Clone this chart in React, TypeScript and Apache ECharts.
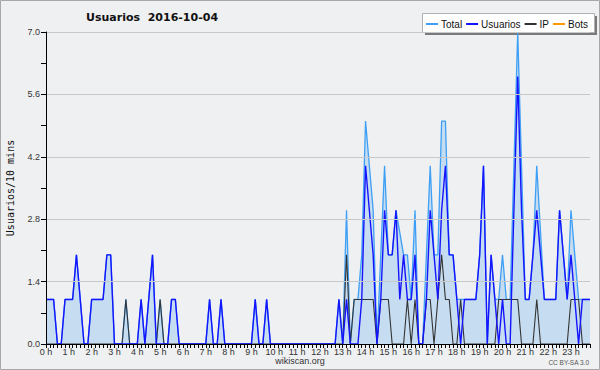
import React, { useEffect, useRef } from "react";
import * as echarts from "echarts";

// 10-minute slots, 00:00 .. 23:50
const TIMES: string[] = [];
for (let h = 0; h < 24; h++) {
  for (let m = 0; m < 60; m += 10) TIMES.push(`${h}:${m < 10 ? "0" + m : m}`);
}

const SERIES_NAMES = ["Total", "Usuarios", "IP", "Bots"];

// one row per hour (6 slots each)
const TOTAL = [
  1, 1, 1, 0, 0, 1,
  1, 1, 2, 1, 0, 0,
  1, 1, 1, 1, 2, 2,
  0, 0, 0, 1, 0, 0,
  0, 1, 0, 1, 2, 0,
  1, 0, 0, 1, 1, 0,
  0, 0, 0, 0, 0, 0,
  0, 1, 0, 0, 1, 0,
  0, 0, 0, 0, 0, 0,
  0, 1, 0, 0, 1, 0,
  0, 0, 0, 0, 0, 0,
  0, 0, 0, 0, 0, 0,
  0, 0, 0, 0, 0, 1,
  0, 3, 0, 1, 1, 2,
  5, 4, 3, 0, 2, 4,
  2, 2, 3, 2.5, 2, 2,
  1, 3, 0, 0, 2, 4,
  2, 2, 5, 5, 2, 2,
  1, 1, 1, 1, 1, 1,
  2, 4, 0, 2, 1, 1,
  2, 1, 1, 4, 7, 4,
  1, 1, 2, 4, 2.5, 1,
  1, 1, 1, 3, 2, 1,
  3, 2, 1, 1, 1, 1,
];

const USUARIOS = [
  1, 1, 1, 0, 0, 1,
  1, 1, 2, 1, 0, 0,
  1, 1, 1, 1, 2, 2,
  0, 0, 0, 0, 0, 0,
  0, 1, 0, 1, 2, 0,
  0, 0, 0, 1, 1, 0,
  0, 0, 0, 0, 0, 0,
  0, 1, 0, 0, 1, 0,
  0, 0, 0, 0, 0, 0,
  0, 1, 0, 0, 1, 0,
  0, 0, 0, 0, 0, 0,
  0, 0, 0, 0, 0, 0,
  0, 0, 0, 0, 0, 1,
  0, 1, 0, 0, 0, 1,
  4, 3, 2, 0, 1, 3,
  2, 2, 3, 1, 2, 1,
  1, 2, 0, 0, 1, 3,
  2, 1, 3, 4, 2, 2,
  1, 0, 1, 1, 1, 1,
  2, 4, 0, 2, 1, 0,
  1, 0, 0, 3, 6, 3,
  1, 1, 2, 3, 2, 1,
  1, 1, 1, 3, 2, 1,
  2, 1, 0, 1, 1, 1,
];

const IP = [
  0, 0, 0, 0, 0, 0,
  0, 0, 0, 0, 0, 0,
  0, 0, 0, 0, 0, 0,
  0, 0, 0, 1, 0, 0,
  0, 0, 0, 0, 0, 0,
  1, 0, 0, 0, 0, 0,
  0, 0, 0, 0, 0, 0,
  0, 0, 0, 0, 0, 0,
  0, 0, 0, 0, 0, 0,
  0, 0, 0, 0, 0, 0,
  0, 0, 0, 0, 0, 0,
  0, 0, 0, 0, 0, 0,
  0, 0, 0, 0, 0, 0,
  0, 2, 0, 1, 1, 1,
  1, 1, 1, 0, 1, 1,
  1, 0, 0, 0, 0, 1,
  0, 1, 0, 0, 1, 1,
  0, 1, 2, 1, 1, 0,
  0, 1, 0, 0, 0, 0,
  0, 0, 0, 0, 0, 1,
  1, 1, 1, 1, 1, 0,
  0, 0, 0, 1, 0, 0,
  0, 0, 0, 0, 0, 0,
  1, 1, 1, 0, 0, 0,
];

// no bot activity visible on this day
const BOTS: number[] = [];

const Y_TICKS_STEP = 1.4;

export default function App() {
  const ref = useRef<HTMLDivElement>(null);

  useEffect(() => {
    document.body.style.margin = "0";
    if (!ref.current) return;
    const chart = echarts.init(ref.current, undefined, { renderer: "svg" });
    const tickFont = "Liberation Sans";
    chart.setOption({
      animation: false,
      backgroundColor: "#eff0f1",
      grid: { left: 46, top: 32, width: 544, height: 312, containLabel: false },
      legend: {
        data: SERIES_NAMES,
        left: 426,
        top: 18,
        padding: 0,
        itemGap: 4,
        itemWidth: 12,
        itemHeight: 2,
        icon: "rect",
        z: 10,
        textStyle: { fontFamily: tickFont, fontSize: 10, color: "#111", lineHeight: 12, padding: [0, 0, 0, -2] },
      },
      xAxis: {
        type: "category",
        data: TIMES,
        boundaryGap: false,
        z: 6,
        axisLine: { show: true, lineStyle: { color: "#000", width: 1 } },
        axisTick: { show: true, interval: 0, length: 4, lineStyle: { color: "#000" } },
        axisLabel: {
          interval: 5,
          margin: 3,
          fontFamily: tickFont,
          fontSize: 9,
          color: "#333",
          formatter: (v: string) => `${parseInt(v, 10)} h`,
        },
        splitLine: { show: false },
      },
      yAxis: {
        type: "value",
        min: 0,
        max: 7,
        interval: Y_TICKS_STEP,
        z: 6,
        axisLine: { show: true, lineStyle: { color: "#000", width: 1 } },
        axisTick: { show: true, length: 5, lineStyle: { color: "#000" } },
        minorTick: { show: true, splitNumber: 2, length: 5, lineStyle: { color: "#000" } },
        axisLabel: {
          margin: 6,
          fontFamily: tickFont,
          fontSize: 9,
          color: "#333",
          formatter: (v: number) => v.toFixed(1),
        },
        splitLine: { show: true, lineStyle: { color: "#c8c8c8", width: 1 } },
      },
      series: [
        {
          name: "Total",
          type: "line",
          data: TOTAL,
          z: 2,
          symbol: "none",
          color: "#3d9ff5",
          lineStyle: { color: "#3d9ff5", width: 1.3 },
          areaStyle: { color: "#c6dcf0", opacity: 1 },
        },
        {
          name: "Usuarios",
          type: "line",
          data: USUARIOS,
          z: 4,
          symbol: "none",
          color: "#1414ff",
          lineStyle: { color: "#1414ff", width: 1.4 },
        },
        {
          name: "IP",
          type: "line",
          data: IP,
          z: 3,
          symbol: "none",
          color: "#333333",
          lineStyle: { color: "#333333", width: 1.1 },
        },
        {
          name: "Bots",
          type: "line",
          data: BOTS,
          z: 3,
          symbol: "none",
          color: "#ff9900",
          lineStyle: { color: "#ff9900", width: 1.2 },
        },
      ],
      graphic: [
        {
          type: "rect",
          z: 0,
          silent: true,
          shape: { x: 0.5, y: 0.5, width: 599, height: 369 },
          style: { fill: "none", stroke: "#a8a8a8", lineWidth: 1 },
        },
        {
          type: "rect",
          z: 1,
          silent: true,
          shape: { x: 425, y: 16, width: 172, height: 19 },
          style: { fill: "#7a7a7a" },
        },
        {
          type: "rect",
          z: 1,
          silent: true,
          shape: { x: 422.5, y: 13.5, width: 172, height: 19 },
          style: { fill: "#ffffff", stroke: "#b0b0b0", lineWidth: 1 },
        },
        {
          type: "text",
          z: 5,
          x: 86,
          y: 17,
          style: {
            text: "Usuarios  2016-10-04",
            fontFamily: "DejaVu Sans",
            fontWeight: "bold",
            fontSize: 11,
            fill: "#111",
            textAlign: "left",
            textVerticalAlign: "middle",
          },
        },
        {
          type: "text",
          z: 5,
          x: 10,
          y: 188,
          rotation: Math.PI / 2,
          style: {
            text: "Usuarios/10 mins",
            fontFamily: "DejaVu Sans Mono",
            fontSize: 10,
            fill: "#111",
            textAlign: "center",
            textVerticalAlign: "middle",
          },
        },
        {
          type: "text",
          z: 5,
          x: 300,
          y: 361,
          style: {
            text: "wikiscan.org",
            fontFamily: tickFont,
            fontSize: 9,
            fill: "#333",
            textAlign: "center",
            textVerticalAlign: "middle",
          },
        },
        {
          type: "text",
          z: 5,
          x: 589,
          y: 362,
          style: {
            text: "CC BY-SA 3.0",
            fontFamily: tickFont,
            fontSize: 6.5,
            fill: "#555",
            textAlign: "right",
            textVerticalAlign: "middle",
          },
        },
      ],
    });
    return () => chart.dispose();
  }, []);

  return <div ref={ref} style={{ width: 600, height: 370 }} />;
}
